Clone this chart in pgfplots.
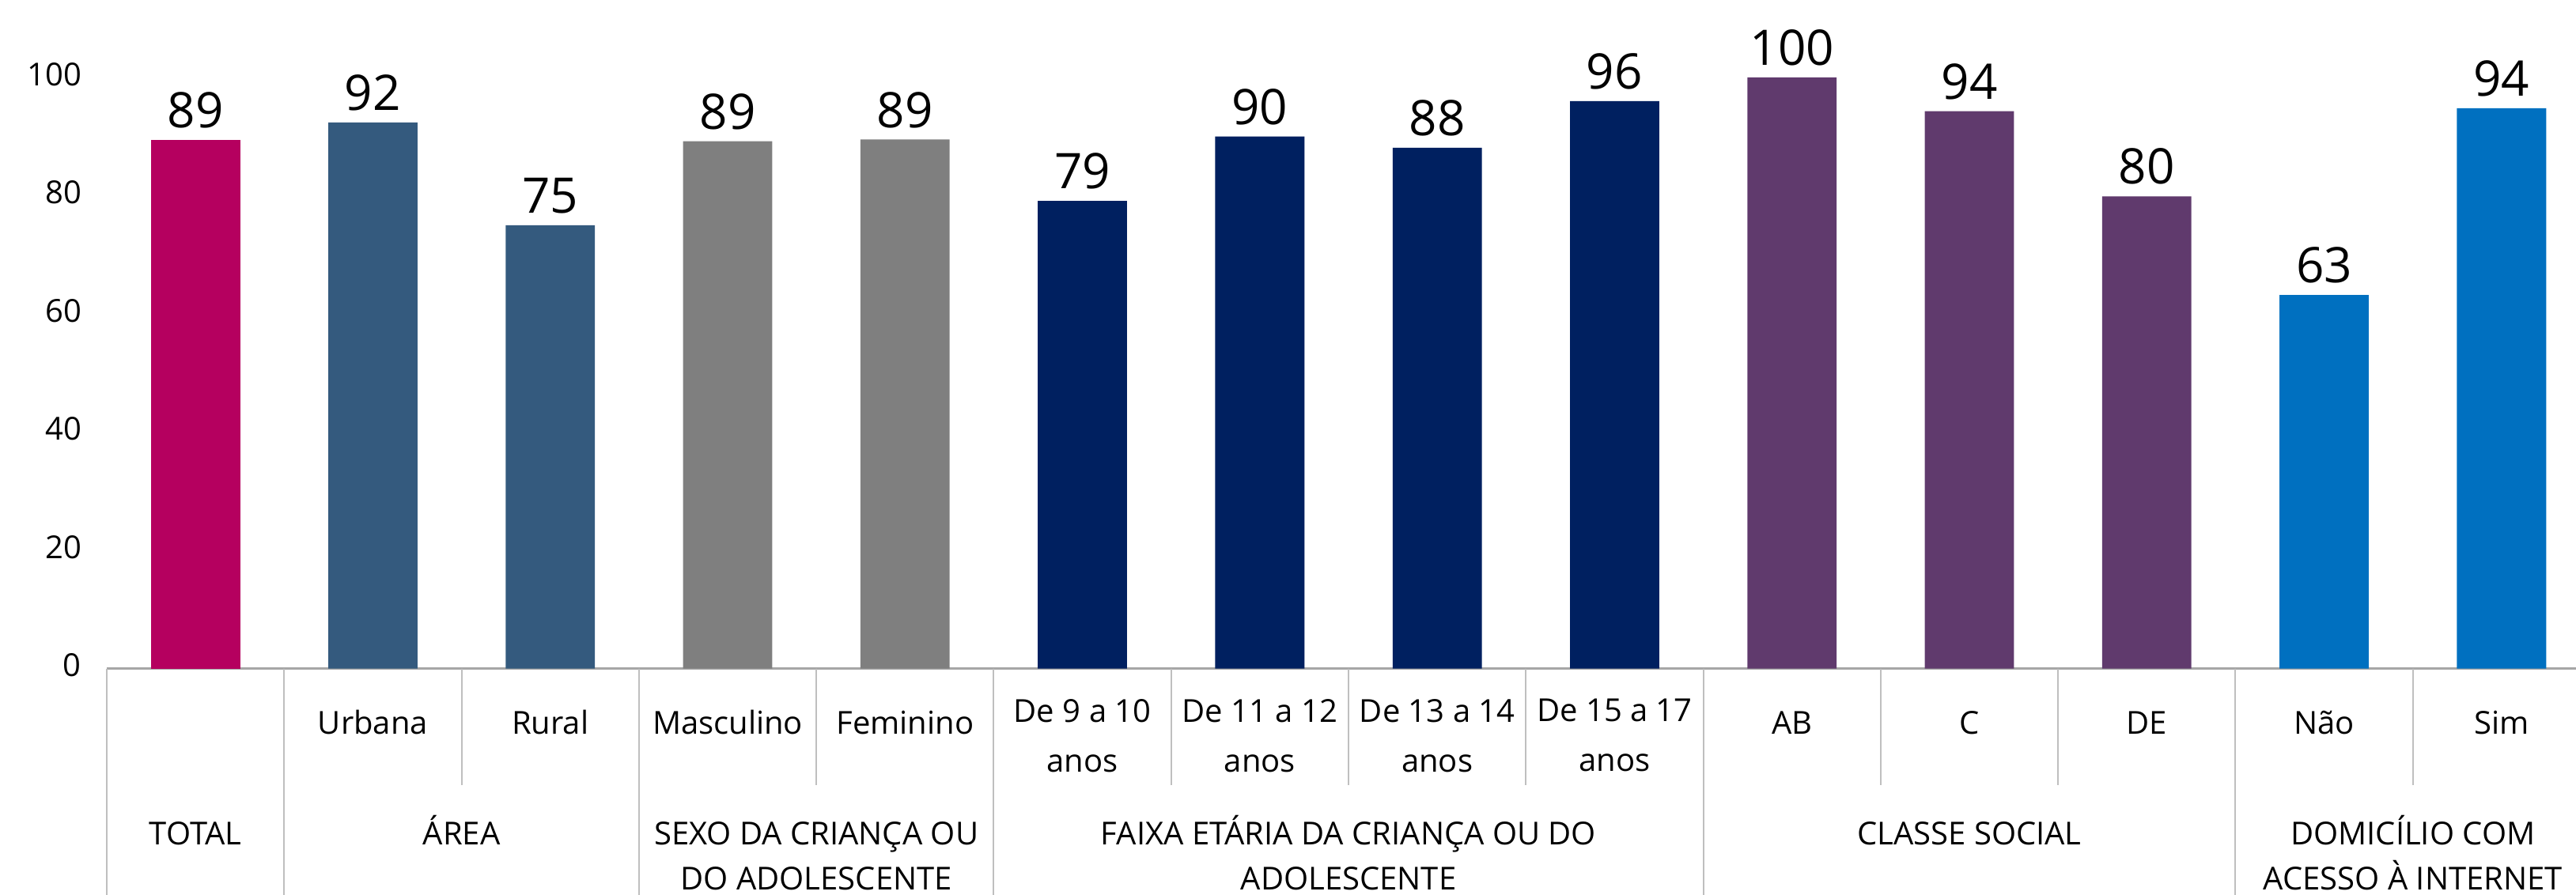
\documentclass[border=0pt]{standalone}
\usepackage{fontspec}
\setmainfont{Open Sans}
\usepackage{pgfplots}
\pgfplotsset{compat=1.18}
\definecolor{cTotal}{HTML}{B5005F}
\definecolor{cArea}{HTML}{345A7E}
\definecolor{cSexo}{HTML}{7F7F7F}
\definecolor{cFaixa}{HTML}{002060}
\definecolor{cClasse}{HTML}{603A6D}
\definecolor{cDom}{HTML}{0070C0}
\definecolor{sepc}{HTML}{BFBFBF}
\begin{document}
\begin{tikzpicture}
\begin{axis}[
  scale only axis, width=785pt, height=186.9pt,
  ymin=0, ymax=100, xmin=-0.5, xmax=13.5,
  ybar, bar width=28.2pt, bar shift=0pt,
  axis x line*=bottom, axis y line*=left,
  y axis line style={draw=none},
  x axis line style={draw=black!35, line width=0.75pt},
  ytick={0,20,...,100}, major tick length=0pt,
  yticklabel style={font=\fontsize{10}{12}\selectfont, xshift=-4.5pt, yshift=1pt},
  /pgf/number format/assume math mode=true,
  xtick={0,...,13},
  xticklabels={{},Urbana,Rural,Masculino,Feminino,{De 9 a 10\\anos},{De 11 a 12\\anos},{De 13 a 14\\anos},{De 15 a 17\\anos},AB,C,DE,Não,Sim},
  xticklabel style={font=\fontsize{10}{15.75}\selectfont, align=center, anchor=north, inner sep=0pt, yshift=-9.45pt, execute at begin node=\strut},
  nodes near coords, point meta=explicit symbolic,
  every node near coord/.append style={font=\fontsize{15.5}{18}\selectfont, anchor=south, inner sep=0pt, yshift=3.5pt, text=black},
  clip=false,
]
\addplot[fill=cTotal, draw=none] coordinates {(0,89.4) [89]};
\addplot[fill=cArea, draw=none] coordinates {(1,92.4) [92] (2,75.0) [75]};
\addplot[fill=cSexo, draw=none] coordinates {(3,89.2) [89] (4,89.5) [89]};
\addplot[fill=cFaixa, draw=none] coordinates {(5,79.1) [79] (6,90.0) [90] (7,88.1) [88] (8,96.0) [96]};
\addplot[fill=cClasse, draw=none] coordinates {(9,100.0) [100] (10,94.3) [94] (11,79.9) [80]};
\addplot[fill=cDom, draw=none] coordinates {(12,63.2) [63] (13,94.8) [94]};
% separators
\pgfplotsinvokeforeach{-0.5,0.5,2.5,4.5,8.5,11.5}{
  \draw[sepc, line width=0.5pt] (axis cs:#1,0) -- ([yshift=-71.6pt]axis cs:#1,0);
}
\pgfplotsinvokeforeach{1.5,3.5,5.5,6.5,7.5,9.5,10.5,12.5}{
  \draw[sepc, line width=0.5pt] (axis cs:#1,0) -- ([yshift=-36.75pt]axis cs:#1,0);
}
\tikzset{grp/.style={anchor=north, align=center, inner sep=0pt, font=\fontsize{10}{14.25}\selectfont, yshift=-45.5pt}}
\node[grp] at (axis cs:0,0) {\strut TOTAL};
\node[grp] at (axis cs:1.5,0) {\strut ÁREA};
\node[grp] at (axis cs:3.5,0) {\strut SEXO DA CRIANÇA OU\\DO ADOLESCENTE};
\node[grp] at (axis cs:6.5,0) {\strut FAIXA ETÁRIA DA CRIANÇA OU DO\\ADOLESCENTE};
\node[grp] at (axis cs:10,0) {\strut CLASSE SOCIAL};
\node[grp] at (axis cs:12.5,0) {\strut DOMICÍLIO COM\\ACESSO À INTERNET};
\end{axis}
\pgfresetboundingbox
\path (-33.75pt,-71.6pt) rectangle (780.5pt,211.4pt);
\end{tikzpicture}
\end{document}
